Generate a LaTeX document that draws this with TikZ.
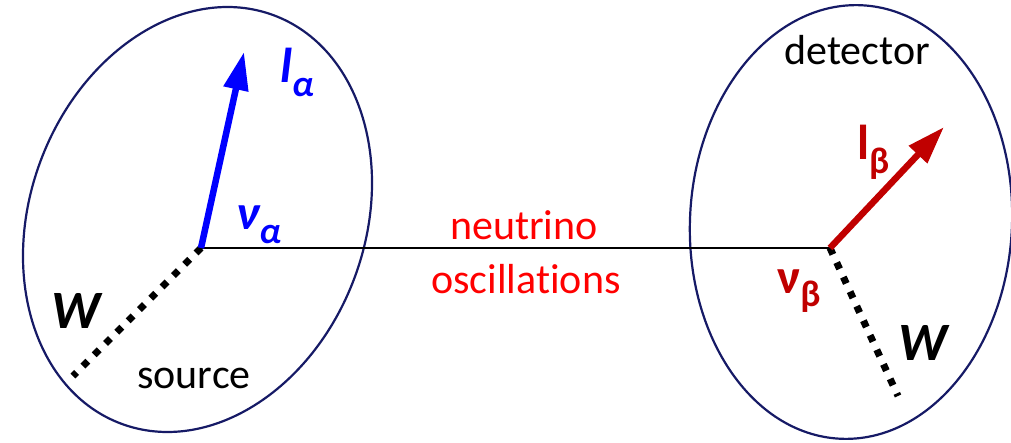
\documentclass[tikz,border=0pt]{standalone}
\usepackage{fontspec}
\setmainfont[Ligatures=NoCommon]{Carlito}
\usepackage{xcolor}
\usetikzlibrary{shapes.geometric, arrows.meta, positioning}
\definecolor{rim}{RGB}{22,26,102}
\definecolor{darkred}{RGB}{192,0,0}

\begin{document}
\begin{tikzpicture}[x=1pt, y=1pt,
    vessel/.style={ellipse, draw=rim, line width=2.2pt, inner sep=0pt},
    track/.style={line width=1.6pt},
    lepton/.style={-{Triangle[length=38pt, width=24pt]}, line width=6.5pt},
    boson/.style={line width=7pt, dash pattern=on 7pt off 9pt},
    txt/.style={font=\fontsize{42}{50}\selectfont, inner sep=0pt, anchor=base},
    lab/.style={inner sep=0pt, anchor=base west}
]
    \useasboundingbox (0,0) rectangle (1011,442);

    % Source and detector
    \node[vessel, minimum width=335pt, minimum height=436pt, rotate=-20.5] (src) at (197.5,222.5) {};
    \node[vessel, minimum width=322pt, minimum height=434pt, rotate=-3] (det) at (851,220) {};

    % Vertices and end points
    \coordinate (srcv) at (201,194);
    \coordinate (detv) at (830,194);
    \coordinate (lalpha) at (244,390);
    \coordinate (lbeta) at (944,315);
    \coordinate (wsrc) at (73,66);
    \coordinate (wdet) at (898,46);

    % Oscillation path
    \draw[track] (srcv) -- (detv);

    % W lines
    \draw[boson] (srcv) -- (wsrc);
    \draw[boson] (detv) -- (wdet);

    % Charged leptons
    \draw[lepton, blue] (srcv) -- (lalpha);
    \draw[lepton, darkred] (detv) -- (lbeta);

    % Labels
    \node[lab, blue, font=\fontsize{49}{56}\selectfont\bfseries\itshape] (la) at (280,359)
        {l\raisebox{-14pt}{\fontsize{37}{37}\selectfont α}};
    \node[lab, blue, font=\fontsize{49}{56}\selectfont\bfseries\itshape] (nua) at (236,212)
        {ν\raisebox{-14pt}{\fontsize{37}{37}\selectfont α}};
    \node[lab, darkred, font=\fontsize{49}{56}\selectfont\bfseries] (lb) at (857,282)
        {l\raisebox{-14pt}{\fontsize{37}{37}\selectfont β}};
    \node[lab, darkred, font=\fontsize{49}{56}\selectfont\bfseries] (nub) at (777,149)
        {ν\raisebox{-14pt}{\fontsize{37}{37}\selectfont β}};
    \node[lab, font=\fontsize{54}{60}\selectfont\bfseries\itshape] (wa) at (51,114) {W};
    \node[lab, font=\fontsize{54}{60}\selectfont\bfseries\itshape] (wb) at (898,82) {W};

    \node[txt] (srcname) at (194,54) {source};
    \node[txt] (detname) at (857,377) {detector};
    \node[txt, red] (osc1) at (524,202) {neutrino};
    \node[txt, red] (osc2) at (526,149) {oscillations};
\end{tikzpicture}
\end{document}
